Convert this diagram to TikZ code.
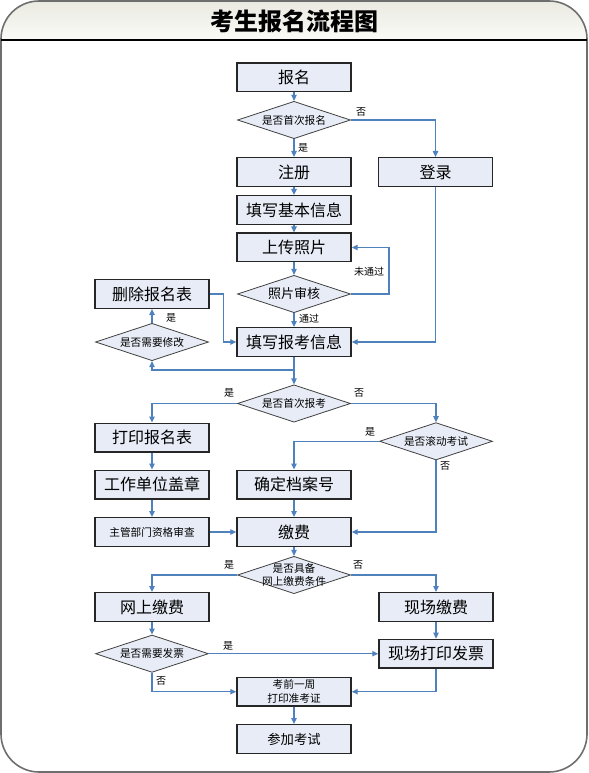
\documentclass[tikz,border=0pt]{standalone}
\usepackage{fontspec}
\setmainfont{Noto Sans CJK SC}
\usetikzlibrary{arrows.meta, shapes.geometric}
\definecolor{linkblue}{RGB}{79,129,189}
\definecolor{boxfill}{RGB}{231,236,246}
\definecolor{framegray}{RGB}{110,110,110}
\definecolor{titletop}{RGB}{234,234,226}
\definecolor{titlebot}{RGB}{250,250,247}

\tikzset{
  box/.style={draw=black!85, line width=1.1pt, fill=boxfill, minimum width=85.5pt, minimum height=21.4pt, inner sep=1pt, font=\fontsize{12}{13}\selectfont},
  smallbox/.style={box, font=\fontsize{8}{10.5}\selectfont, align=center},
  decision/.style={draw=black!75, line width=0.6pt, fill=boxfill, shape=diamond, minimum width=84.75pt, minimum height=28pt, inner sep=0pt},
  dtext/.style={font=\fontsize{8}{10}\selectfont, align=center, inner sep=0pt},
  link/.style={draw=linkblue, line width=1pt, -{Triangle[length=4.5pt,width=4pt]}},
  tag/.style={font=\fontsize{7.5}{8}\selectfont, inner sep=0pt},
}

\begin{document}
\begin{tikzpicture}[x=0.75pt, y=-0.75pt]
% Frame and title
\useasboundingbox (0,0) rectangle (588,773);
\begin{scope}
  \clip[rounded corners=28.5pt] (1,1) rectangle (587,772);
  \shade[top color=titletop, bottom color=titlebot] (1,1) rectangle (587,40);
\end{scope}
\draw[framegray, line width=1.2pt, rounded corners=28.5pt] (1,1) rectangle (587,772);
\draw[black, line width=0.8pt] (1,40) -- (587,40);
\node[font=\fontsize{18}{20}\selectfont\bfseries] (title) at (294,21) {考生报名流程图};

% Steps
\node[box] (baoming) at (294,77.5) {报名};
\node[decision, label={[dtext]center:是否首次报名}] (q1) at (294,120) {};
\node[box] (zhuce) at (294,172) {注册};
\node[box] (denglu) at (435.5,172) {登录};
\node[box] (jiben) at (294,210) {填写基本信息};
\node[box] (zhaopian) at (294,247.5) {上传照片};
\node[decision, label={[dtext, font=\fontsize{9.75}{11}\selectfont]center:照片审核}] (q2) at (294,294) {};
\node[box] (baokao) at (294,342) {填写报考信息};
\node[box] (shanchu) at (152,294) {删除报名表};
\node[decision, label={[dtext]center:是否需要修改}] (q3) at (152,342) {};
\node[decision, label={[dtext]center:是否首次报考}] (q4) at (294,403.5) {};
\node[box] (dayin) at (152,437.5) {打印报名表};
\node[decision, label={[dtext]center:是否滚动考试}] (q5) at (436,441.3) {};
\node[box] (gaizhang) at (152,484.5) {工作单位盖章};
\node[box] (dangan) at (294,484.5) {确定档案号};
\node[smallbox] (shencha) at (152,532) {主管部门资格审查};
\node[box] (jiaofei) at (294,532) {缴费};
\node[decision, label={[dtext]center:{是否具备\\网上缴费条件}}] (q6) at (294,575) {};
\node[box] (wangshang) at (152,607) {网上缴费};
\node[box] (xianchang) at (436,607) {现场缴费};
\node[decision, label={[dtext]center:是否需要发票}] (q7) at (152,653.7) {};
\node[box] (fapiao) at (436,653.7) {现场打印发票};
\node[smallbox] (zhunkao) at (294,691.7) {考前一周\\打印准考证};
\node[box, font=\fontsize{10}{11}\selectfont] (canjia) at (294,739) {参加考试};

% Connectors
\draw[link] (baoming) -- (q1);
\draw[link] (q1) -- (zhuce);
\draw[link] (q1.east) -| (denglu);
\draw[link] (zhuce) -- (jiben);
\draw[link] (jiben) -- (zhaopian);
\draw[link] (zhaopian) -- (q2);
\draw[link] (q2.east) -- ++(38,0) |- (zhaopian.east);
\draw[link] (q2) -- (baokao);
\draw[link] (denglu) |- (baokao.east);
\draw[link] (shanchu.east) -- ++(14,0) |- (baokao.west);
\draw[link] (q3) -- (shanchu);
\coordinate (back) at (294,370);
\draw[link] (baokao) -- (q4);
\draw[link] (baokao.south) -- (back) -| (q3.south);
\draw[link] (q4.west) -| (dayin);
\draw[link] (q4.east) -| (q5);
\draw[link] (q5.west) -| (dangan);
\draw[link] (q5.south) |- (jiaofei.east);
\draw[link] (dayin) -- (gaizhang);
\draw[link] (gaizhang) -- (shencha);
\draw[link] (shencha) -- (jiaofei);
\draw[link] (dangan) -- (jiaofei);
\draw[link] (jiaofei) -- (q6);
\draw[link] (q6.west) -| (wangshang);
\draw[link] (q6.east) -| (xianchang);
\draw[link] (wangshang) -- (q7);
\draw[link] (xianchang) -- (fapiao);
\draw[link] (q7) -- (fapiao);
\draw[link] (q7.south) |- (zhunkao.west);
\draw[link] (fapiao.south) |- (zhunkao.east);
\draw[link] (zhunkao) -- (canjia);

% Branch labels
\node[tag] (t1) at (361,112) {否};
\node[tag] (t2) at (303,148) {是};
\node[tag] (t3) at (369,272) {未通过};
\node[tag] (t4) at (309,319) {通过};
\node[tag] (t5) at (171,318) {是};
\node[tag] (t6) at (229,393) {是};
\node[tag] (t7) at (359,393) {否};
\node[tag] (t8) at (370,432) {是};
\node[tag] (t9) at (445,466) {否};
\node[tag] (t10) at (229,565) {是};
\node[tag] (t11) at (358,565) {否};
\node[tag] (t12) at (228,646) {是};
\node[tag] (t13) at (161,681) {否};
\end{tikzpicture}
\end{document}
